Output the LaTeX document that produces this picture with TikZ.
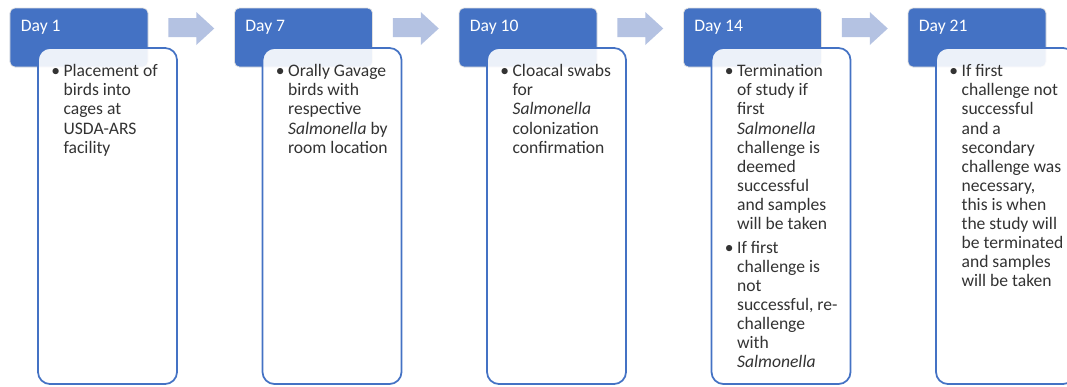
\documentclass[tikz,border=0pt]{standalone}
\usepackage{fontspec}
\setmainfont{Carlito}
\usepackage{xcolor}
\usetikzlibrary{calc}

\definecolor{hdblue}{HTML}{4472C4}
\definecolor{arrblue}{HTML}{B4C2E2}

\begin{document}
\begin{tikzpicture}[x=0.03cm, y=-0.03cm, line cap=round, line join=round,
  hdbox/.style={rectangle, rounded corners=0.15cm, fill=hdblue, draw=black!12,
    line width=0.6pt, minimum width=4.14cm, minimum height=1.77cm, inner sep=0pt},
  daytxt/.style={anchor=west, text=white, inner sep=0pt,
    font=\fontsize{15}{16}\selectfont},
  bodybox/.style={rectangle, rounded corners=0.36cm, draw=hdblue, line width=1.5pt,
    fill=white, fill opacity=0.9, minimum width=4.17cm, minimum height=10.08cm,
    inner sep=0pt},
  bodytxt/.style={anchor=north west, inner sep=0pt, text=black!80,
    font=\fontsize{15}{16.3}\selectfont}]

% Marco de la imagen
\clip (0,0) rectangle (1067,386);
\fill[white] (0,0) rectangle (1067,386);

% === DIA 1 ===
\node[hdbox] (h1) at (79,37.5) {};
\node[daytxt] (l1) at ([shift={(11,20)}]h1.north west) {Day 1};
\node[bodybox] (b1) at (107.5,216) {};
\node[bodytxt] (t1) at ([shift={(14,16)}]b1.north west) {%
  \begin{tabular}{@{}l@{\hspace{3pt}}l@{}}
  • & Placement of\\
    & birds into\\
    & cages at\\
    & USDA-ARS\\
    & facility
  \end{tabular}};

% === DIA 7 ===
\node[hdbox] (h2) at (303.5,37.5) {};
\node[daytxt] (l2) at ([shift={(11,20)}]h2.north west) {Day 7};
\node[bodybox] (b2) at (332,216) {};
\node[bodytxt] (t2) at ([shift={(14,16)}]b2.north west) {%
  \begin{tabular}{@{}l@{\hspace{3pt}}l@{}}
  • & Orally Gavage\\
    & birds with\\
    & respective\\
    & \textit{Salmonella} by\\
    & room location
  \end{tabular}};

% === DIA 10 ===
\node[hdbox] (h3) at (528,37.5) {};
\node[daytxt] (l3) at ([shift={(11,20)}]h3.north west) {Day 10};
\node[bodybox] (b3) at (556.5,216) {};
\node[bodytxt] (t3) at ([shift={(14,16)}]b3.north west) {%
  \begin{tabular}{@{}l@{\hspace{3pt}}l@{}}
  • & Cloacal swabs\\
    & for\\
    & \textit{Salmonella}\\
    & colonization\\
    & confirmation
  \end{tabular}};

% === DIA 14 ===
\node[hdbox] (h4) at (752.5,37.5) {};
\node[daytxt] (l4) at ([shift={(11,20)}]h4.north west) {Day 14};
\node[bodybox] (b4) at (781,216) {};
\node[bodytxt] (t4) at ([shift={(14,16)}]b4.north west) {%
  \begin{tabular}{@{}l@{\hspace{3pt}}l@{}}
  • & Termination\\
    & of study if\\
    & first\\
    & \textit{Salmonella}\\
    & challenge is\\
    & deemed\\
    & successful\\
    & and samples\\
    & will be taken\\[4pt]
  • & If first\\
    & challenge is\\
    & not\\
    & successful, re-\\
    & challenge\\
    & with\\
    & \textit{Salmonella}
  \end{tabular}};

% === DIA 21 ===
\node[hdbox] (h5) at (977,37.5) {};
\node[daytxt] (l5) at ([shift={(11,20)}]h5.north west) {Day 21};
\node[bodybox] (b5) at (1005.5,216) {};
\node[bodytxt] (t5) at ([shift={(14,16)}]b5.north west) {%
  \begin{tabular}{@{}l@{\hspace{3pt}}l@{}}
  • & If first\\
    & challenge not\\
    & successful\\
    & and a\\
    & secondary\\
    & challenge was\\
    & necessary,\\
    & this is when\\
    & the study will\\
    & be terminated\\
    & and samples\\
    & will be taken
  \end{tabular}};

% Flechas entre encabezados
\foreach \i/\j in {1/2,2/3,3/4,4/5}{
  \coordinate (m\i) at ($(h\i.east)!0.5!(h\j.west)$);
  \fill[arrblue, shift={(m\i)}] (-23,-19.5) -- (5,-19.5) -- (5,-25.5) -- (23,-9)
    -- (5,7.5) -- (5,-0.5) -- (-23,-0.5) -- cycle;
}

\end{tikzpicture}
\end{document}
